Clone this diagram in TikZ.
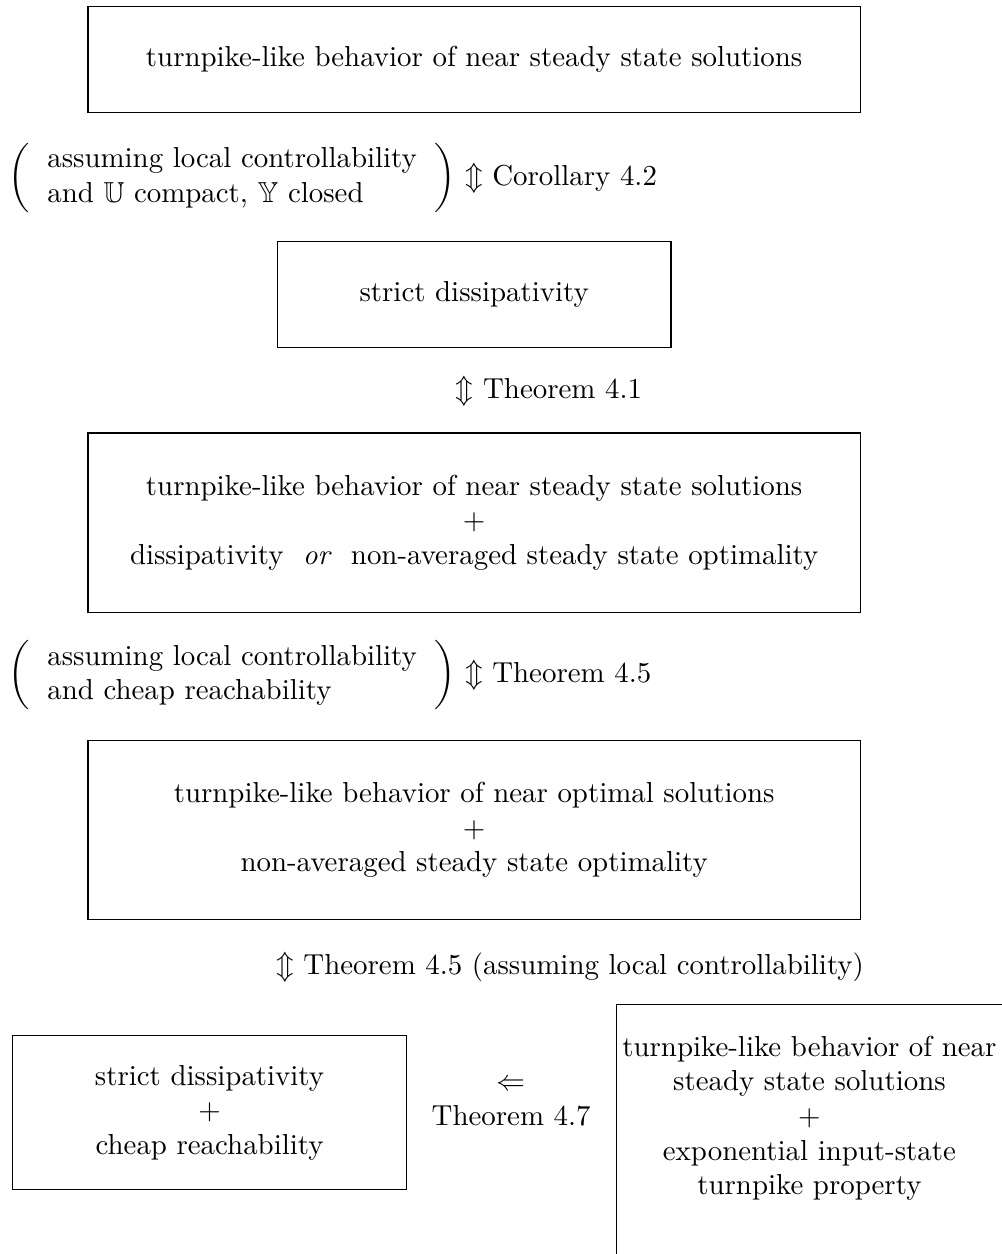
\documentclass[tikz,border=0pt]{standalone}
\usepackage{amsmath}
\usepackage{amssymb}
\usepackage{tikz}
\usetikzlibrary{positioning,calc}
\tikzstyle{box}=[draw,align=center,inner sep=0pt]
\tikzstyle{wide}=[box,minimum width=9.40cm]
\tikzstyle{note}=[inner sep=0pt,anchor=west]

\begin{document}
\begin{tikzpicture}
      \useasboundingbox (0,0) rectangle (12.19,-15.26);
      \node[wide,minimum height=1.29cm] at (5.77,-0.72) (nearss) {turnpike-like behavior of near steady state solutions};
      \node[note] at (0.10,-2.17) (cor42) {$\left(\begin{tabular}{l}assuming local controllability\\ and $\mathbb{U}$ compact, $\mathbb{Y}$ closed\end{tabular}\right)$ $\Updownarrow$ Corollary 4.2};
      \node[box,minimum width=4.79cm,minimum height=1.29cm] at (5.77,-3.58) (sdiss) {strict dissipativity};
      \node[note] at (5.54,-4.76) (thm41) {$\Updownarrow$ Theorem 4.1};
      \node[wide,minimum height=2.18cm] at (5.77,-6.36) (nearssd) {turnpike-like behavior of near steady state solutions\\ $+$\\ dissipativity \ \textit{or} \ non-averaged steady state optimality};
      \node[note] at (0.10,-8.22) (thm45a) {$\left(\begin{tabular}{l}assuming local controllability\\ and cheap reachability\end{tabular}\right)$ $\Updownarrow$ Theorem 4.5};
      \node[wide,minimum height=2.17cm] at (5.77,-10.10) (nearopt) {turnpike-like behavior of near optimal solutions\\ $+$\\ non-averaged steady state optimality};
      \node[note,anchor=east] at (10.52,-11.77) (thm45b) {$\Updownarrow$ Theorem 4.5 (assuming local controllability)};
      \node[box,minimum width=4.79cm,minimum height=1.87cm] at (2.55,-13.54) (sdissr) {strict dissipativity\\ $+$\\ cheap reachability};
      \node[align=center,inner sep=0pt] at (6.22,-13.42) (thm47) {$\Leftarrow$\\ Theorem 4.7};
      \node[draw,inner sep=0pt,anchor=base,text height=1.48cm,text depth=2.4cm] at (9.85,-13.70) (expis) {\setlength{\tabcolsep}{2pt}\begin{tabular}{c}turnpike-like behavior of near\\ steady state solutions\\ $+$\\ exponential input-state\\ turnpike property\end{tabular}};
\end{tikzpicture}
\end{document}
